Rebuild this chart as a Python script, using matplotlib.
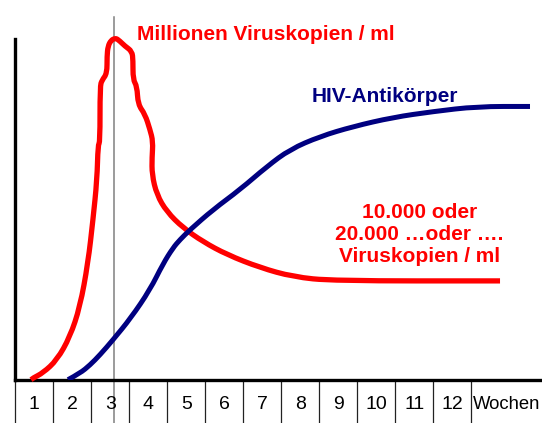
import numpy as np
import matplotlib
matplotlib.use("Agg")
import matplotlib.pyplot as plt
from matplotlib.path import Path
from matplotlib.patches import PathPatch

plt.rcParams['font.family'] = ['Liberation Sans', 'DejaVu Sans']

# weeks (box units) and level in % of axis height
weeks = [str(i) for i in range(1, 13)]
unit_label = "Wochen"

virus_x = [0.416, 0.468, 0.732, 1.100, 1.442, 1.705, 1.916, 2.047, 2.153, 2.179,
           2.232, 2.232, 2.284, 2.416, 2.416, 2.442, 2.521, 2.626, 2.705, 2.889,
           3.074, 3.100, 3.100, 3.205, 3.232, 3.416, 3.547, 3.626, 3.600, 3.600,
           3.726, 3.989, 4.416, 4.942, 5.574, 6.442, 7.311, 8.363, 12.758]
virus_y = [0, 0.5, 2.0, 5.8, 12.6, 21.4, 34.3, 47.0, 58.7, 69.0,
           69.6, 86.1, 87.9, 89.9, 95.0, 97.9, 99.6, 100.2, 99.9, 97.9,
           96.4, 93.8, 88.1, 86.1, 80.8, 77.9, 73.4, 69.9, 65.2, 60.2,
           54.3, 49.3, 44.6, 40.5, 36.7, 32.9, 30.2, 29.0, 29.0]

anti_x = [1.389, 1.705, 1.968, 2.232, 2.574, 3.042, 3.547, 3.889, 4.153, 4.337,
          4.600, 5.205, 5.916, 6.626, 7.232, 8.021, 8.889, 9.942, 10.995, 12.153, 13.547]
anti_y = [0, 1.9, 4.3, 7.3, 11.7, 18.1, 26.4, 34.0, 38.7, 41.1,
          44.0, 49.9, 55.8, 62.6, 67.6, 71.4, 74.3, 77.0, 78.7, 80.2, 80.2]

marker_week = 2.6


def smooth_path(xs, ys):
    # rounded polyline: each inner point becomes a quadratic control point
    pts = list(zip(xs, ys))
    verts = [pts[0]]
    codes = [Path.MOVETO]
    for i in range(1, len(pts) - 1):
        mid = ((pts[i][0] + pts[i + 1][0]) / 2, (pts[i][1] + pts[i + 1][1]) / 2)
        verts += [pts[i], mid]
        codes += [Path.CURVE3, Path.CURVE3]
    verts.append(pts[-1])
    codes.append(Path.LINETO)
    return Path(verts, codes)


fig = plt.figure(figsize=(5.42, 4.23), dpi=100)
ax = fig.add_axes([15.2/542, (423-379.7)/423, (540-15.2)/542, (379.7-39)/423])
ax.set_xlim(0, 13.81)
ax.set_ylim(0, 100)

red = '#ff0000'
navy = '#000080'

ax.add_patch(PathPatch(smooth_path(virus_x, virus_y), fill=False, edgecolor=red,
                       lw=3.8, capstyle='butt', joinstyle='round', clip_on=False, zorder=3))
ax.add_patch(PathPatch(smooth_path(anti_x, anti_y), fill=False, edgecolor=navy,
                       lw=3.6, capstyle='butt', joinstyle='round', zorder=3))

# thin marker line
ax.plot([marker_week, marker_week], [106.4, -12.8], color='#808080', lw=1.1,
        clip_on=False, zorder=2)

# week boxes below the axis
for i in range(13):
    ax.plot([i, i], [0, -12.8], color='#222222', lw=0.9, clip_on=False)
for i, lab in enumerate(weeks):
    ax.text(i + 0.5, -7.3, lab, ha='center', va='center', fontsize=14, clip_on=False)
ax.text(12.04, -7.3, unit_label, ha='left', va='center', fontsize=13.3, clip_on=False)

for s in ['top', 'right']:
    ax.spines[s].set_visible(False)
ax.spines['left'].set_linewidth(2.4)
ax.spines['bottom'].set_linewidth(2.4)
ax.set_xticks([])
ax.set_yticks([])

ax.text(3.2, 101.4, "Millionen Viruskopien / ml", color=red, fontsize=15,
        fontweight='bold', ha='left', va='center', clip_on=False)
ax.text(7.81, 83.1, "HIV-Antikörper", color=navy, fontsize=15,
        fontweight='bold', ha='left', va='center')
ax.text(10.63, 42.6, "10.000 oder\n20.000 \u2026oder \u2026.\nViruskopien / ml", color=red,
        fontsize=15, fontweight='bold', ha='center', va='center', linespacing=1.2)

fig.savefig('out.png', dpi=100)
